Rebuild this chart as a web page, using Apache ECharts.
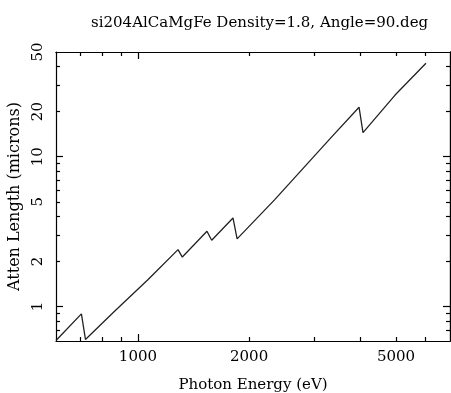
<!DOCTYPE html>
<html>
<head>
<meta charset="utf-8">
<script src="https://cdn.jsdelivr.net/npm/echarts@6/dist/echarts.min.js"></script>
<style>html,body{margin:0;padding:0;background:#fff}#c{width:451px;height:393px}</style>
</head>
<body>
<div id="c"></div>
<script>
// Data (photon energy in eV, attenuation length in microns)
var energy = [600, 703, 721, 856, 1064, 1284, 1319, 1538, 1584, 1809, 1856, 2347, 3305, 3970, 4069, 4970, 6025];
var attenLength = [0.593, 0.894, 0.603, 0.908, 1.51, 2.40, 2.14, 3.18, 2.77, 3.90, 2.83, 5.17, 13.1, 21.4, 14.5, 25.8, 42.1];

var xLabelTicks = [1000, 2000, 5000];
var xMajorTicks = [1000];
var xMinorTicks = [700, 800, 900, 2000, 3000, 4000, 5000, 6000];
var yLabelTicks = [1, 2, 5, 10, 20, 50];
var yMajorTicks = [1, 10];
var yMinorTicks = [0.7, 0.8, 0.9, 2, 3, 4, 5, 6, 7, 8, 9, 20, 30, 40];

var titleText = 'si204AlCaMgFe Density=1.8, Angle=90.deg';
var xName = 'Photon Energy (eV)';
var yName = 'Atten Length (microns)';

var FONT = 'DejaVu Serif';
var xMin = 600, xMax = 7000, yMin = 0.589, yMax = 50;

function xAx(pos, ticks, len, labels, name) {
  return {
    type: 'log', position: pos, min: xMin, max: xMax,
    axisLine: {show: !!labels || pos === 'top', lineStyle: {color: '#000', width: 1.2}},
    axisTick: {show: true, inside: true, length: len, customValues: ticks, lineStyle: {color: '#000', width: 1.2}},
    axisLabel: labels ? {show: true, customValues: labels, margin: 9, color: '#000', fontFamily: FONT, fontSize: 15,
      formatter: function (v) { return String(Math.round(v)); }} : {show: false},
    splitLine: {show: false}, minorTick: {show: false},
    name: name || '', nameLocation: 'middle', nameGap: 37,
    nameTextStyle: {color: '#000', fontFamily: FONT, fontSize: 15}
  };
}
function yAx(pos, ticks, len, labels, name) {
  return {
    type: 'log', position: pos, min: yMin, max: yMax,
    axisLine: {show: !!labels || pos === 'right', lineStyle: {color: '#000', width: 1.2}},
    axisTick: {show: true, inside: true, length: len, customValues: ticks, lineStyle: {color: '#000', width: 1.2}},
    axisLabel: labels ? {show: true, customValues: labels, rotate: 90, margin: 10, color: '#000', fontFamily: FONT, fontSize: 15,
      formatter: function (v) { return String(Math.round(v * 1000) / 1000); }} : {show: false},
    splitLine: {show: false}, minorTick: {show: false},
    name: name || '', nameLocation: 'middle', nameGap: 27,
    nameTextStyle: {color: '#000', fontFamily: FONT, fontSize: 16}
  };
}

var chart = echarts.init(document.getElementById('c'), null, {renderer: 'canvas'});
chart.setOption({
  animation: false,
  backgroundColor: '#fff',
  title: {text: titleText, left: 86, top: 11,
    textStyle: {color: '#000', fontFamily: FONT, fontSize: 15, fontWeight: 'normal'}},
  grid: {left: 56, right: 1, top: 52, bottom: 52, containLabel: false, outerBoundsMode: 'none'},
  xAxis: [
    xAx('bottom', xMajorTicks, 7, xLabelTicks, xName),
    xAx('bottom', xMinorTicks, 4, null),
    xAx('top', xMajorTicks, 7, null),
    xAx('top', xMinorTicks, 4, null)
  ],
  yAxis: [
    yAx('left', yMajorTicks, 7, yLabelTicks, yName),
    yAx('left', yMinorTicks, 4, null),
    yAx('right', yMajorTicks, 7, null),
    yAx('right', yMinorTicks, 4, null)
  ],
  series: [{
    type: 'line', xAxisIndex: 0, yAxisIndex: 0,
    data: energy.map(function (e, i) { return [e, attenLength[i]]; }),
    showSymbol: false, symbol: 'none',
    lineStyle: {color: '#222', width: 1.3}
  }]
});
</script>
</body>
</html>
